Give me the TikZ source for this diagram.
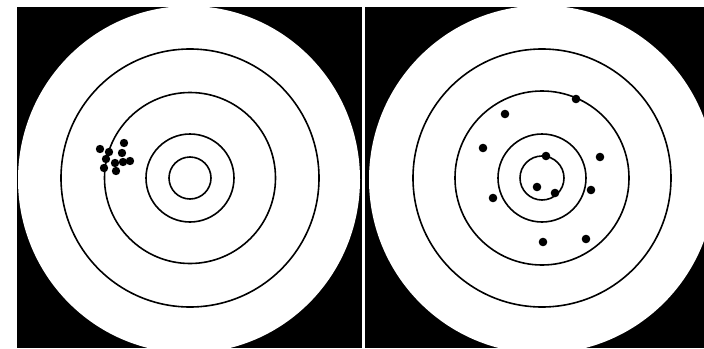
\documentclass[tikz,border=0pt]{standalone}
\begin{document}
\begin{tikzpicture}[x=1pt,y=-1pt,
  ring/.style={draw=black,line width=1.6pt},
  panel/.style={fill=black},
  shot/.style={fill=black}]
\useasboundingbox (0,0) rectangle (704,348);
\fill[white] (0,0) rectangle (704,348);
% left target
\begin{scope}
  \clip (17,7) rectangle (362,348);
  \fill[panel] (17,7) rectangle (362,348);
  \fill[white] (189,179.5) ellipse [x radius=171pt, y radius=173.5pt];
  \foreach \r in {21,44,85.5,129} \draw[ring] (190,178) circle (\r pt);
  \foreach \p in {(100,149),(109,152),(124,143),(122,153),(106,159),(115,163),(123,162),(130,161),(104,168),(116,171)}
    \fill[shot] \p circle (4.2pt);
\end{scope}
% right target
\begin{scope}
  \clip (364.5,7) rectangle (704,348);
  \fill[panel] (364.5,7) rectangle (704,348);
  \fill[white] (542,179.5) ellipse [x radius=173pt, y radius=174pt];
  \foreach \r in {22,44,87,129} \draw[ring] (542,178) circle (\r pt);
  \foreach \p in {(576,99),(505,114),(483,148),(546,156),(600,157),(537,187),(555,193),(591,190),(493,198),(543,242),(586,239)}
    \fill[shot] \p circle (4.3pt);
\end{scope}
\end{tikzpicture}
\end{document}
